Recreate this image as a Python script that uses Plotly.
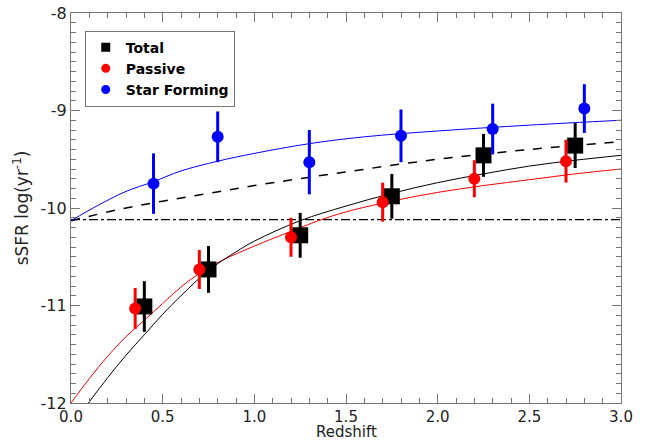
import plotly.graph_objects as go

# ---- data points ----
total_z = [0.40, 0.75, 1.25, 1.75, 2.25, 2.75]
total_ssfr = [-11.01, -10.63, -10.28, -9.88, -9.46, -9.36]
total_err = [0.26, 0.24, 0.23, 0.23, 0.22, 0.23]

passive_z = [0.35, 0.70, 1.20, 1.70, 2.20, 2.70]
passive_ssfr = [-11.03, -10.63, -10.30, -9.94, -9.70, -9.52]
passive_err = [0.21, 0.20, 0.20, 0.20, 0.19, 0.22]

sf_z = [0.45, 0.80, 1.30, 1.80, 2.30, 2.80]
sf_ssfr = [-9.75, -9.27, -9.53, -9.26, -9.19, -8.98]
sf_err = [0.31, 0.26, 0.33, 0.27, 0.26, 0.25]

# ---- fitted curves ----
fit_total_z = [0.095, 0.2, 0.3, 0.4, 0.5, 0.6, 0.75, 0.9, 1.0, 1.25, 1.5, 1.75, 2.0, 2.25, 2.5, 2.75, 3.0]
fit_total_y = [-12.0, -11.74, -11.51, -11.30, -11.09, -10.90, -10.64, -10.45, -10.34, -10.13, -9.98, -9.85, -9.74, -9.65, -9.57, -9.51, -9.46]

fit_passive_z = [0.0, 0.1, 0.2, 0.3, 0.4, 0.5, 0.6, 0.7, 0.8, 1.0, 1.2, 1.35, 1.5, 1.75, 2.0, 2.25, 2.5, 2.75, 3.0]
fit_passive_y = [-12.0, -11.75, -11.52, -11.32, -11.15, -10.98, -10.81, -10.67, -10.56, -10.39, -10.24, -10.13, -10.04, -9.93, -9.84, -9.77, -9.71, -9.65, -9.60]

fit_sf_z = [0.0, 0.15, 0.3, 0.45, 0.6, 0.8, 1.0, 1.3, 1.6, 2.0, 2.5, 3.0]
fit_sf_y = [-10.13, -9.97, -9.83, -9.73, -9.62, -9.52, -9.44, -9.34, -9.27, -9.21, -9.15, -9.10]

dashed_z = [0.0, 0.25, 0.5, 0.75, 1.0, 1.5, 2.0, 2.5, 3.0]
dashed_y = [-10.13, -10.02, -9.93, -9.85, -9.77, -9.63, -9.50, -9.40, -9.32]

dashdot_z = [0.0, 3.0]
dashdot_y = [-10.12, -10.12]

x_tickvals = [0.0, 0.5, 1.0, 1.5, 2.0, 2.5, 3.0]
x_ticktext = ["0.0", "0.5", "1.0", "1.5", "2.0", "2.5", "3.0"]
y_tickvals = [-12, -11, -10, -9, -8]
y_ticktext = ["-12", "-11", "-10", "-9", "-8"]

series_names = ["Total", "Passive", "Star Forming"]
series_colors = ["black", "#ff0000", "#0000ff"]
series_symbols = ["square", "circle", "circle"]

FONT = "DejaVu Sans"

fig = go.Figure()

# curves
fig.add_trace(go.Scatter(x=dashdot_z, y=dashdot_y, mode="lines",
                         line=dict(color="black", width=1.3, dash="dashdot"), showlegend=False))
fig.add_trace(go.Scatter(x=dashed_z, y=dashed_y, mode="lines", line_shape="spline",
                         line=dict(color="black", width=1.5, dash="dash"), showlegend=False))
fig.add_trace(go.Scatter(x=fit_sf_z, y=fit_sf_y, mode="lines", line_shape="spline",
                         line=dict(color="#0000ff", width=1), showlegend=False))
fig.add_trace(go.Scatter(x=fit_passive_z, y=fit_passive_y, mode="lines", line_shape="spline",
                         line=dict(color="#ff0000", width=1), showlegend=False))
fig.add_trace(go.Scatter(x=fit_total_z, y=fit_total_y, mode="lines", line_shape="spline",
                         line=dict(color="black", width=1), showlegend=False))

# points
fig.add_trace(go.Scatter(x=total_z, y=total_ssfr, mode="markers", showlegend=False,
                         marker=dict(symbol="square", size=16, color="black"),
                         error_y=dict(type="data", array=total_err, width=0, thickness=3, color="black")))
fig.add_trace(go.Scatter(x=passive_z, y=passive_ssfr, mode="markers", showlegend=False,
                         marker=dict(symbol="circle", size=12, color="#ff0000"),
                         error_y=dict(type="data", array=passive_err, width=0, thickness=3, color="#ff0000")))
fig.add_trace(go.Scatter(x=sf_z, y=sf_ssfr, mode="markers", showlegend=False,
                         marker=dict(symbol="circle", size=12, color="#0000ff"),
                         error_y=dict(type="data", array=sf_err, width=0, thickness=3, color="#0000ff")))

# legend entries (small symbols as in the reference)
for name, col, sym in zip(series_names, series_colors, series_symbols):
    fig.add_trace(go.Scatter(x=[None], y=[None], mode="markers", name=name,
                             marker=dict(symbol=sym, size=9, color=col)))

axis_common = dict(showline=True, linecolor="#777777", linewidth=1.2, mirror="ticks",
                   ticks="inside", tickcolor="#777777", ticklen=9, tickwidth=1,
                   showgrid=False, zeroline=False, automargin=False,
                   ticklabeloverflow="allow")

fig.update_xaxes(range=[0, 3], tickvals=x_tickvals, ticktext=x_ticktext,
                 tickfont=dict(family=FONT, size=15, color="#222222"),
                 minor=dict(dtick=0.1, ticks="inside", ticklen=5, tickcolor="#777777", showgrid=False),
                 **axis_common)
fig.update_yaxes(range=[-12, -8], tickvals=y_tickvals, ticktext=y_ticktext,
                 tickfont=dict(family=FONT, size=16, color="#222222"),
                 minor=dict(dtick=0.1, ticks="inside", ticklen=5, tickcolor="#777777", showgrid=False),
                 title=dict(text="sSFR log(yr<sup>-1</sup>)", font=dict(family=FONT, size=17, color="#222222"), standoff=7),
                 **axis_common)

fig.update_layout(
    width=646, height=443,
    margin=dict(l=71, r=25, t=13, b=40),
    plot_bgcolor="white", paper_bgcolor="white",
    legend=dict(x=0.025, y=0.955, xanchor="left", yanchor="top",
                bgcolor="white", bordercolor="#777777", borderwidth=1,
                itemsizing="trace", itemwidth=30, tracegroupgap=0,
                font=dict(family=FONT, size=14, color="black", weight="bold")),
    annotations=[dict(text="Redshift", xref="paper", yref="paper", x=0.5, y=0,
                      xanchor="center", yanchor="top", yshift=-19, borderpad=0, showarrow=False,
                      font=dict(family=FONT, size=15, color="#222222"))],
)

# remove the browser's default 8px page margin so the figure fills the window
fig.write_html("out.html", config={"displayModeBar": False},
               post_script="document.body.style.margin='0';")
